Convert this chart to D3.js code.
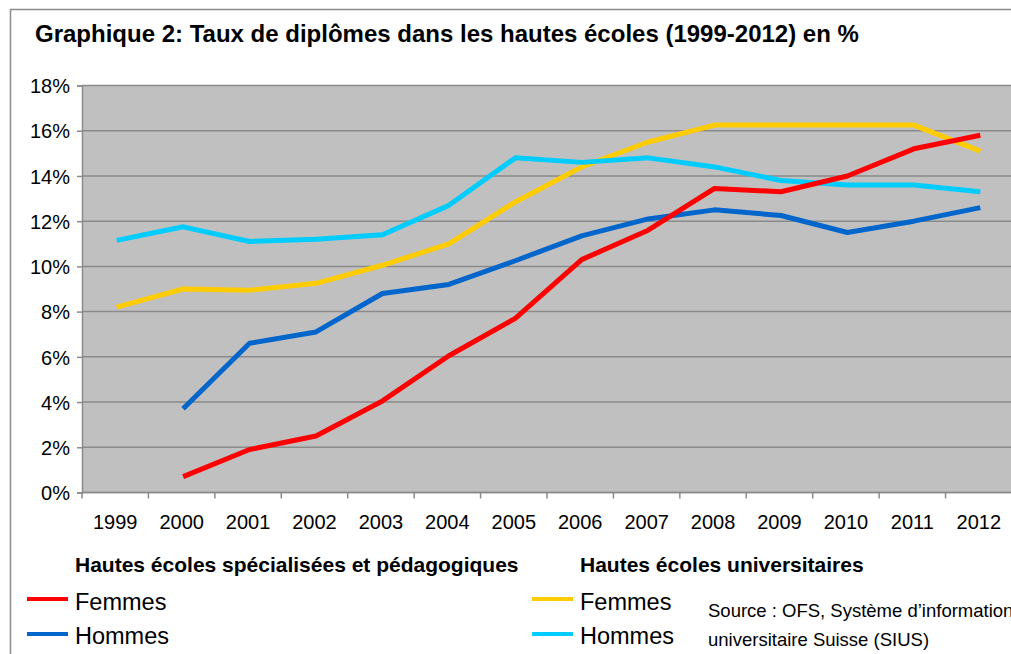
<!DOCTYPE html>
<html>
<head>
<meta charset="utf-8">
<script src="https://cdn.jsdelivr.net/npm/d3@7"></script>
<style>
  body { margin: 0; background: #fff; }
  svg text { font-family: "Liberation Sans", Arial, sans-serif; fill: #000; }
</style>
</head>
<body>
<div class="chart-holder"></div>
<script>
// Years on the x axis
const years = ["1999", "2000", "2001", "2002", "2003", "2004", "2005", "2006", "2007", "2008", "2009", "2010", "2011", "2012"];

// Hautes écoles spécialisées et pédagogiques (null = no value)
const hes_femmes = [null, 0.7, 1.9, 2.5, 4.05, 6.05, 7.7, 10.3, 11.6, 13.45, 13.3, 14.0, 15.2, 15.8];
const hes_hommes = [null, 3.7, 6.6, 7.1, 8.8, 9.2, 10.25, 11.35, 12.1, 12.5, 12.25, 11.5, 12.0, 12.6];

// Hautes écoles universitaires
const heu_femmes = [8.2, 9.0, 8.95, 9.25, 10.05, 11.0, 12.85, 14.4, 15.5, 16.25, 16.25, 16.25, 16.25, 15.1];
const heu_hommes = [11.15, 11.75, 11.1, 11.2, 11.4, 12.7, 14.8, 14.6, 14.8, 14.4, 13.8, 13.6, 13.6, 13.3];

const y_ticks = [0, 2, 4, 6, 8, 10, 12, 14, 16, 18];

// Set up dimensions
const width = 1011;
const height = 654;
const margin = { top: 85.5, right: -1, bottom: 161.5, left: 82 };
const plot_w = width - margin.left - margin.right;
const plot_h = height - margin.top - margin.bottom;

const svg = d3.select('.chart-holder').append('svg')
  .attr('width', width)
  .attr('height', height);

// Outer frame of the chart
svg.append('path')
  .attr('d', 'M10.5,' + height + ' V9.5 H' + width)
  .attr('fill', 'none')
  .attr('stroke', '#8c8c8c')
  .attr('stroke-width', 1.5);

// Title
svg.append('text')
  .attr('x', 35)
  .attr('y', 42)
  .style('font-size', '24px')
  .style('font-weight', 'bold')
  .text('Graphique 2: Taux de diplômes dans les hautes écoles (1999-2012) en %');

const g = svg.append('g')
  .attr('transform', 'translate(' + margin.left + ',' + margin.top + ')');

// Scales
const xScale = d3.scaleBand()
  .domain(years)
  .range([0, plot_w]);

const yScale = d3.scaleLinear()
  .domain([0, 18])
  .range([plot_h, 0]);

// Plot background
g.append('rect')
  .attr('width', plot_w)
  .attr('height', plot_h)
  .attr('fill', '#c0c0c0');

// Gridlines
g.append('g')
  .selectAll('line')
  .data(y_ticks)
  .join('line')
  .attr('x1', 0)
  .attr('x2', plot_w)
  .attr('y1', d => yScale(d))
  .attr('y2', d => yScale(d))
  .attr('stroke', '#8a8a8a')
  .attr('stroke-width', 1.5);

// Y axis
const yAxis = g.append('g')
  .call(d3.axisLeft(yScale).tickValues(y_ticks).tickSize(5).tickPadding(7).tickFormat(d => d + '%'));
yAxis.selectAll('text').style('font-size', '20px').attr('dy', '0.36em');
yAxis.selectAll('line, path').attr('stroke', '#8a8a8a').attr('stroke-width', 1.5);

// X axis: ticks between the bands, labels centred in the bands
const xAxis = g.append('g')
  .attr('transform', 'translate(0,' + plot_h + ')');
xAxis.append('line')
  .attr('x1', 0).attr('x2', plot_w)
  .attr('stroke', '#8a8a8a').attr('stroke-width', 1.5);
xAxis.selectAll('.tick')
  .data(years)
  .join('line')
  .attr('x1', d => xScale(d))
  .attr('x2', d => xScale(d))
  .attr('y1', 0)
  .attr('y2', 6)
  .attr('stroke', '#8a8a8a')
  .attr('stroke-width', 1.5);
xAxis.selectAll('text')
  .data(years)
  .join('text')
  .attr('x', d => xScale(d) + xScale.bandwidth() / 2)
  .attr('y', 36)
  .attr('text-anchor', 'middle')
  .style('font-size', '20px')
  .text(d => d);

// Lines
const series = [
  { values: heu_femmes, color: '#ffcc00' },
  { values: heu_hommes, color: '#00ccff' },
  { values: hes_hommes, color: '#0066cc' },
  { values: hes_femmes, color: '#ff0000' },
];

const line = d3.line()
  .defined(d => d.v != null)
  .x(d => xScale(d.year) + xScale.bandwidth() / 2 + 1.5)
  .y(d => yScale(d.v));

series.forEach(s => {
  g.append('path')
    .datum(years.map((y, i) => ({ year: y, v: s.values[i] })))
    .attr('fill', 'none')
    .attr('stroke', s.color)
    .attr('stroke-width', 5)
    .attr('stroke-linejoin', 'round')
    .attr('d', line);
});

// Legend
const legend_groups = [
  { title: 'Hautes écoles spécialisées et pédagogiques', x: 27, items: [
    { label: 'Femmes', color: '#ff0000' }, { label: 'Hommes', color: '#0066cc' }] },
  { title: 'Hautes écoles universitaires', x: 532, items: [
    { label: 'Femmes', color: '#ffcc00' }, { label: 'Hommes', color: '#00ccff' }] },
];

legend_groups.forEach(grp => {
  const lg = svg.append('g').attr('transform', 'translate(' + grp.x + ',0)');
  lg.append('text')
    .attr('x', 48)
    .attr('y', 572)
    .style('font-size', '21px')
    .style('font-weight', 'bold')
    .text(grp.title);
  grp.items.forEach((it, i) => {
    lg.append('line')
      .attr('x1', 0).attr('x2', 41)
      .attr('y1', 599 + i * 35).attr('y2', 599 + i * 35)
      .attr('stroke', it.color)
      .attr('stroke-width', 4);
    lg.append('text')
      .attr('x', 48)
      .attr('y', 610 + i * 34)
      .style('font-size', '23.5px')
      .text(it.label);
  });
});

// Source note
svg.append('text')
  .attr('x', 708)
  .attr('y', 617)
  .style('font-size', '18.5px')
  .text('Source : OFS, Système d’information');
svg.append('text')
  .attr('x', 708)
  .attr('y', 646)
  .style('font-size', '18.5px')
  .text('universitaire Suisse (SIUS)');
</script>
</body>
</html>
